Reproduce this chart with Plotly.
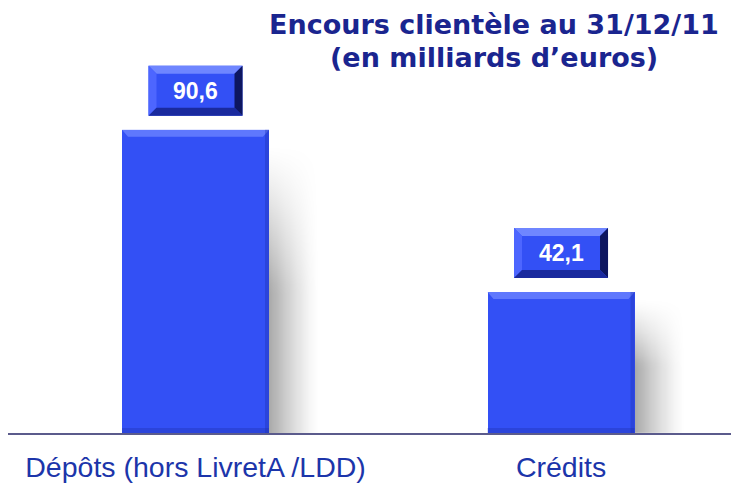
import numpy as np
import plotly.graph_objects as go

categories = ["Dépôts (hors LivretA /LDD)", "Crédits"]
values = [90.6, 42.1]
value_labels = ["90,6", "42,1"]
title_line1 = "Encours clientèle au 31/12/11"
title_line2 = "(en milliards d’euros)"

BAR_BLUE = "#3350F5"
LIGHT = "#6f86ff"
DARK = "#1a2a9e"
NAVY = "#0d1660"
BAR_W = 0.402
HALF_PX = 73.5
X_RANGE = [-0.513, 1.465]
PLOT_W_PX = 723

x_idx = list(range(len(categories)))

fig = go.Figure()

# soft shadows to the right of each bar (smooth heatmaps)
px2data = (X_RANGE[1] - X_RANGE[0]) / PLOT_W_PX
for i, v in zip(x_idx, values):
    edge = i + BAR_W / 2
    xs = edge + np.linspace(0, 50, 24) * px2data
    ys = np.linspace(0, v * 0.95, 30)
    t = np.linspace(0, 1, 24)
    s = np.linspace(0, 1, 30)
    fx = (1 - t) ** 1.3
    gy = np.where(s < 0.5, 1.0, np.clip((1 - s) / 0.5, 0, 1) ** 1.2)
    z = np.outer(gy, fx)
    fig.add_trace(go.Heatmap(
        x=xs, y=ys, z=z, zmin=0, zmax=1, zsmooth="best",
        colorscale=[[0, "rgba(0,0,0,0)"], [1, "rgba(0,0,0,0.34)"]],
        showscale=False, hoverinfo="skip",
    ))

fig.add_trace(go.Bar(
    x=x_idx, y=values, width=BAR_W,
    marker=dict(color=BAR_BLUE, line=dict(width=0)),
    hoverinfo="skip", showlegend=False,
))

shapes = []
for i, v in zip(x_idx, values):
    shapes.append(dict(
        type="path", layer="above",
        xref="x", yref="y", xsizemode="pixel", ysizemode="pixel",
        xanchor=i, yanchor=v,
        path=f"M {-HALF_PX},0 L {HALF_PX},0 L {HALF_PX-6},-7 L {-HALF_PX+6},-7 Z",
        fillcolor=LIGHT, opacity=0.75, line=dict(width=0),
    ))
    shapes.append(dict(
        type="rect", layer="above",
        xref="x", yref="y", xsizemode="pixel", xanchor=i,
        x0=HALF_PX - 4, x1=HALF_PX, y0=0, y1=v,
        fillcolor=DARK, opacity=0.3, line=dict(width=0),
    ))
    shapes.append(dict(
        type="rect", layer="above",
        xref="x", yref="y", xsizemode="pixel", ysizemode="pixel",
        xanchor=i, yanchor=0,
        x0=-HALF_PX, x1=HALF_PX, y0=0, y1=5,
        fillcolor=DARK, opacity=0.3, line=dict(width=0),
    ))
    bx0, bx1, by0, by1 = -47, 47, 14, 64
    shapes.append(dict(
        type="rect", layer="above",
        xref="x", yref="y", xsizemode="pixel", ysizemode="pixel",
        xanchor=i, yanchor=v,
        x0=bx0, x1=bx1, y0=by0, y1=by1,
        fillcolor=BAR_BLUE, line=dict(width=0),
    ))
    b = 8
    shapes.append(dict(
        type="path", layer="above",
        xref="x", yref="y", xsizemode="pixel", ysizemode="pixel",
        xanchor=i, yanchor=v,
        path=f"M {bx0},{by1} L {bx1},{by1} L {bx1-b},{by1-b} L {bx0+b},{by1-b} Z",
        fillcolor=LIGHT, line=dict(width=0),
    ))
    shapes.append(dict(
        type="path", layer="above",
        xref="x", yref="y", xsizemode="pixel", ysizemode="pixel",
        xanchor=i, yanchor=v,
        path=f"M {bx0},{by0} L {bx0},{by1} L {bx0+b},{by1-b} L {bx0+b},{by0+b} Z",
        fillcolor="#4d66ff", line=dict(width=0),
    ))
    shapes.append(dict(
        type="path", layer="above",
        xref="x", yref="y", xsizemode="pixel", ysizemode="pixel",
        xanchor=i, yanchor=v,
        path=f"M {bx1},{by0} L {bx1},{by1} L {bx1-b},{by1-b} L {bx1-b},{by0+b} Z",
        fillcolor=NAVY, line=dict(width=0),
    ))
    shapes.append(dict(
        type="path", layer="above",
        xref="x", yref="y", xsizemode="pixel", ysizemode="pixel",
        xanchor=i, yanchor=v,
        path=f"M {bx0},{by0} L {bx1},{by0} L {bx1-b},{by0+b} L {bx0+b},{by0+b} Z",
        fillcolor=DARK, line=dict(width=0),
    ))

annotations = []
for i, v, lab in zip(x_idx, values, value_labels):
    annotations.append(dict(
        x=i, y=v, xref="x", yref="y", text=f"<b>{lab}</b>",
        showarrow=False, yshift=39, xanchor="center", yanchor="middle",
        font=dict(family="Liberation Sans, Arial", size=23, color="white"),
    ))
annotations.append(dict(
    x=0.672, y=1, xref="paper", yref="paper", text=f"<b>{title_line1}</b>",
    showarrow=False, xanchor="center", yanchor="middle", yshift=-24,
    font=dict(family="DejaVu Sans, Verdana", size=27, color="#1a258f"),
))
annotations.append(dict(
    x=0.672, y=1, xref="paper", yref="paper", text=f"<b>{title_line2}</b>",
    showarrow=False, xanchor="center", yanchor="middle", yshift=-57,
    font=dict(family="DejaVu Sans, Verdana", size=27, color="#1a258f"),
))

fig.update_layout(
    width=731, height=483,
    margin=dict(l=8, r=0, t=0, b=50, pad=0),
    paper_bgcolor="white", plot_bgcolor="white",
    shapes=shapes, annotations=annotations,
    bargap=0, showlegend=False,
    xaxis=dict(
        range=X_RANGE, tickvals=x_idx, ticktext=categories,
        showline=True, linecolor="#5b5b8c", linewidth=2,
        showgrid=False, zeroline=False, ticks="",
        ticklabelstandoff=8,
        tickfont=dict(family="Liberation Sans, Arial", size=28.5, color="#1c35aa"),
    ),
    yaxis=dict(range=[0, 129.4], visible=False, showgrid=False, zeroline=False),
)

fig.write_html("out.html", config={"displayModeBar": False},
               post_script="document.body.style.margin='0';")
